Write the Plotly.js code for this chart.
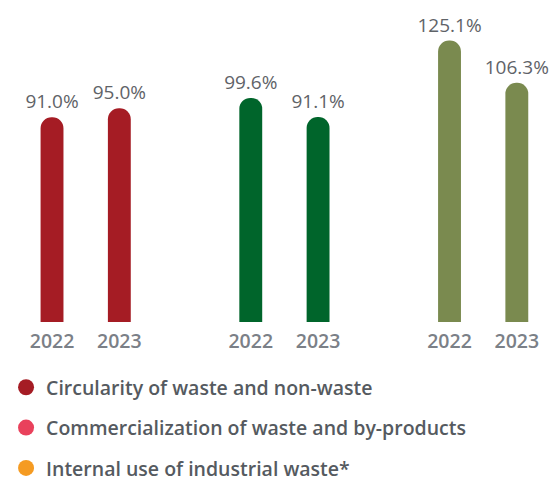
<!DOCTYPE html>
<html>
<head>
<meta charset="utf-8">
<script src="https://cdn.plot.ly/plotly-3.0.1.min.js"></script>
<style>
html,body{margin:0;padding:0;background:#fff;}
#chart{width:550px;height:479px;}
</style>
</head>
<body>
<div id="chart"></div>
<script>
const seriesNames = ['Circularity of waste and non-waste', 'Commercialization of waste and by-products', 'Internal use of industrial waste*'];
const years = ['2022', '2023'];
const circularity = [91.0, 95.0];
const commercialization = [99.6, 91.1];
const internalUse = [125.1, 106.3];

const barColors = ['#a51c24', '#00652b', '#7a8a4f'];
const legendColors = ['#a51c24', '#e9415c', '#f59b22'];

const groupValues = [circularity, commercialization, internalUse];
const GROUP_STEP = 2.953;
const pos = (g, i) => g * GROUP_STEP + i;

const traces = [];
const tickvals = [], ticktext = [];
groupValues.forEach((vals, g) => {
  const xs = vals.map((v, i) => pos(g, i));
  xs.forEach((x, i) => { tickvals.push(x); ticktext.push(years[i]); });
  traces.push({
    type: 'bar',
    x: xs,
    y: vals,
    width: 0.34,
    marker: { color: barColors[g], cornerradius: '50%' },
    text: vals.map(v => v.toFixed(1) + '%'),
    textposition: 'outside',
    constraintext: 'none',
    textfont: { family: 'Open Sans, sans-serif', size: 19, color: '#5f6368' },
    cliponaxis: false,
    showlegend: false,
    hoverinfo: 'skip'
  });
});
seriesNames.forEach((name, k) => {
  traces.push({
    type: 'scatter',
    mode: 'markers',
    x: [null], y: [null],
    name: name,
    legendgroup: 'g' + k,
    marker: { color: legendColors[k], size: 19, symbol: 'circle' },
    showlegend: true
  });
});

const layout = {
  width: 550, height: 479,
  margin: { l: 0, r: 0, t: 7, b: 0, autoexpand: false },
  paper_bgcolor: '#ffffff',
  plot_bgcolor: '#ffffff',
  xaxis: {
    range: [-0.773, 7.399],
    tickvals: tickvals,
    ticktext: ticktext,
    showgrid: false, zeroline: false, showline: false,
    ticks: '',
    ticklabelstandoff: 5,
    tickfont: { family: 'Open Sans, sans-serif', size: 19.5, color: '#7b8087', weight: 600 },
    fixedrange: true
  },
  yaxis: {
    range: [0, 140],
    domain: [0.3326, 1],
    visible: false,
    fixedrange: true
  },
  showlegend: true,
  legend: {
    orientation: 'v',
    x: 0.011, xanchor: 'left',
    y: 0.235, yanchor: 'top',
    maxheight: 400,
    traceorder: 'grouped',
    tracegroupgap: 12,
    font: { family: 'Open Sans, sans-serif', size: 19.5, color: '#555a60', weight: 600 },
    itemclick: false, itemdoubleclick: false
  }
};

Plotly.newPlot('chart', traces, layout, { displayModeBar: false, staticPlot: true });
</script>
</body>
</html>
